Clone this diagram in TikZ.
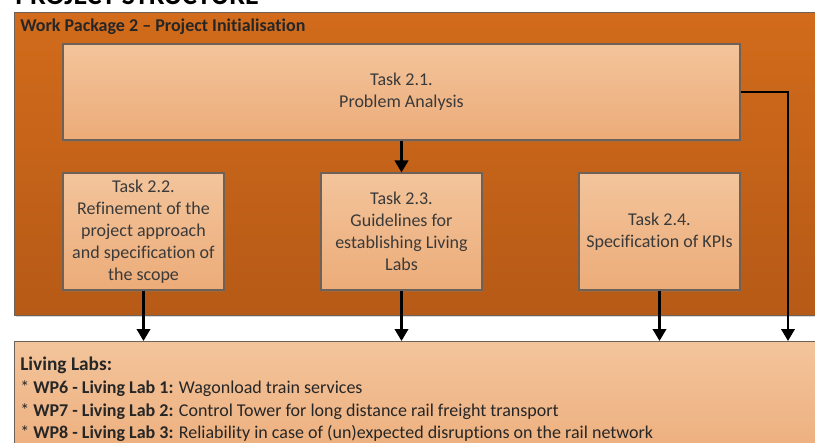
\documentclass[tikz,border=0pt]{standalone}
\usepackage{fontspec}
\setmainfont{Carlito}[Ligatures={NoCommon}]
\usetikzlibrary{arrows.meta,shadows}
\definecolor{wpdark}{HTML}{D26B1B}
\definecolor{wpdeep}{HTML}{B65A17}
\definecolor{tasktop}{HTML}{F3C49B}
\definecolor{taskbot}{HTML}{ECAC79}
\definecolor{boxline}{HTML}{6E6258}
\definecolor{txtgrey}{HTML}{3A3A3A}
\newcommand{\px}{0.75pt}

\begin{document}
\begin{tikzpicture}[x=\px,y=-\px,
  font=\fontsize{13.5}{16.5}\selectfont,
  wpbox/.style={draw=boxline,line width=1pt,top color=wpdark,bottom color=wpdeep,inner sep=0pt,
    drop shadow={shadow xshift=1pt,shadow yshift=-1.2pt,opacity=.3}},
  taskbox/.style={draw=boxline,line width=0.8pt,top color=tasktop,bottom color=taskbot,text=txtgrey,
    align=center,inner sep=2pt,drop shadow={shadow xshift=1pt,shadow yshift=-1.2pt,opacity=.3}},
  labline/.style={anchor=base west,inner sep=0pt,text=black!85},
  flow/.style={-{Triangle[length=9pt,width=10pt]},line width=2pt,black}]
\useasboundingbox (0,0) rectangle (815,443);
\node[anchor=base west,inner sep=0pt,font=\fontsize{21}{24}\selectfont\bfseries] (ttl) at (15,4) {PROJECT STRUCTURE};
% work package frame
\node[wpbox,minimum width=820*\px,minimum height=303*\px,anchor=north west] (wp2) at (14,12) {};
\node[anchor=base west,inner sep=0pt,font=\fontsize{13.5}{15}\selectfont\bfseries,text=black!85] (wptitle) at (20,31) {Work Package 2 -- Project Initialisation};
\node[taskbox,minimum width=677*\px,minimum height=96*\px] (t21) at (401.5,92) {Task 2.1.\\Problem Analysis};
\node[taskbox,minimum width=161*\px,minimum height=117*\px] (t22) at (143.5,231.5) {Task 2.2.\\Refinement of the\\project approach\\and specification of\\the scope};
\node[taskbox,minimum width=161*\px,minimum height=117*\px] (t23) at (401.5,231.5) {Task 2.3.\\Guidelines for\\establishing Living\\Labs};
\node[taskbox,minimum width=161*\px,minimum height=117*\px] (t24) at (659.5,231.5) {Task 2.4.\\Specification of KPIs};
% living labs
\node[taskbox,minimum width=820*\px,minimum height=130*\px,anchor=north west] (labs) at (14,341) {};
\node[labline,font=\fontsize{14.5}{16}\selectfont\bfseries] (labhd) at (20,370) {Living Labs:};
\node[labline] (lab1) at (20,393) {* \textbf{WP6 - Living Lab 1:} Wagonload train services};
\node[labline] (lab2) at (20,416) {* \textbf{WP7 - Living Lab 2:} Control Tower for long distance rail freight transport};
\node[labline] (lab3) at (20,438) {* \textbf{WP8 - Living Lab 3:} Reliability in case of (un)expected disruptions on the rail network};
\coordinate (drop) at (788,341);
\draw[flow] (t21.south) -- (t23.north);
\draw[flow] (t22.south) -- (t22.south |- labs.north);
\draw[flow] (t23.south) -- (t23.south |- labs.north);
\draw[flow] (t24.south) -- (t24.south |- labs.north);
\draw[flow] (t21.east) -| (drop);
\end{tikzpicture}
\end{document}
